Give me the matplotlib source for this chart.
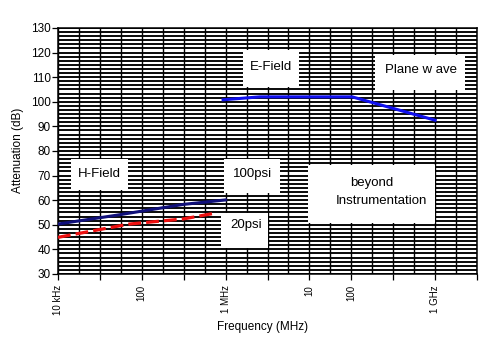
import matplotlib
matplotlib.use('Agg')
import matplotlib.pyplot as plt
from matplotlib.patches import Rectangle
from matplotlib.ticker import FixedLocator, MultipleLocator, NullFormatter
import numpy as np

plt.rcParams['font.family'] = ['Liberation Sans', 'DejaVu Sans']

# Frequencies in Hz, attenuation in dB
efield_freq = [10**5.97, 10**6.41, 10**7.51, 10**8.5]
efield_db = [100.8, 102.0, 102.0, 92.5]

h100_freq = [1e4, 10**4.7, 10**5.5, 1e6]
h100_db = [50.3, 53.9, 58.3, 60.1]

h20_freq = [1e4, 10**4.85, 10**5.5, 10**5.87]
h20_db = [44.9, 50.3, 52.4, 54.7]

# x tick positions (half decades) and their labels as printed on the chart
xtick_pos = [10**(4 + 0.5 * k) for k in range(11)]
xtick_lab = ['10 kHz', '', '100', '', '1 MHz', '', '10', '100', '', '1 GHz', '']

fig = plt.figure(figsize=(5, 3.52), dpi=100)
ax = fig.add_axes([0.116, 0.2216, 0.838, 0.699])

ax.set_xscale('log')
ax.set_xlim(1e4, 1e9)
ax.set_ylim(30, 130)

# grid
ax.xaxis.set_major_locator(FixedLocator(xtick_pos))
ax.xaxis.set_minor_locator(FixedLocator([10**(4 + 0.25 * k) for k in range(21)]))
ax.xaxis.set_minor_formatter(NullFormatter())
ax.set_xticklabels(xtick_lab, rotation=90, fontsize=7)
ax.yaxis.set_major_locator(MultipleLocator(10))
ax.yaxis.set_minor_locator(MultipleLocator(10 / 6))
ax.tick_params(axis='y', which='major', length=4, width=0.9, pad=1, labelsize=8.5)
ax.tick_params(axis='x', which='major', length=4, width=0.9, pad=4)
ax.tick_params(which='minor', length=0)
ax.grid(True, axis='y', which='both', color='black', linewidth=1.35)
ax.grid(True, axis='x', which='both', color='black', linewidth=1.0)
ax.set_axisbelow(True)
for s in ax.spines.values():
    s.set_linewidth(1.1)

# curves
ax.plot(efield_freq, efield_db, color='#1010ee', linewidth=2.2, zorder=4)
ax.plot(h100_freq, h100_db, color='#10107a', linewidth=2.2, zorder=4)
ax.plot(h20_freq, h20_db, color='#ee1010', linewidth=2.3, dashes=(4, 1.6), zorder=4)

# white label boxes (axes fraction)
boxes = [
    ((0.031, 0.341), 0.136, 0.126),
    ((0.396, 0.329), 0.134, 0.138),
    ((0.389, 0.106), 0.112, 0.142),
    ((0.442, 0.760), 0.133, 0.151),
    ((0.757, 0.748), 0.214, 0.142),
    ((0.597, 0.207), 0.303, 0.236),
]
for (x0, y0), w, h in boxes:
    ax.add_patch(Rectangle((x0, y0), w, h, transform=ax.transAxes,
                           facecolor='white', edgecolor='none', zorder=3))

def lab(px, py, s):
    ax.text((px - 58) / 419, (274 - py) / 246, s, transform=ax.transAxes,
            ha='center', va='center', fontsize=9.5, zorder=5)

lab(99, 174, 'H-Field')
lab(253, 174, '100psi')
lab(246, 225, '20psi')
lab(271, 67, 'E-Field')
lab(421, 70.5, 'Plane w ave')
lab(372, 183, 'beyond')
lab(381, 201, 'Instrumentation')

fig.text(263 / 500, 1 - 327 / 352, 'Frequency (MHz)', ha='center', va='center', fontsize=8.5)
fig.text(18 / 500, 1 - 150 / 352, 'Attenuation (dB)', ha='center', va='center',
         rotation=90, fontsize=8.5)

fig.savefig('out.png', dpi=100)
